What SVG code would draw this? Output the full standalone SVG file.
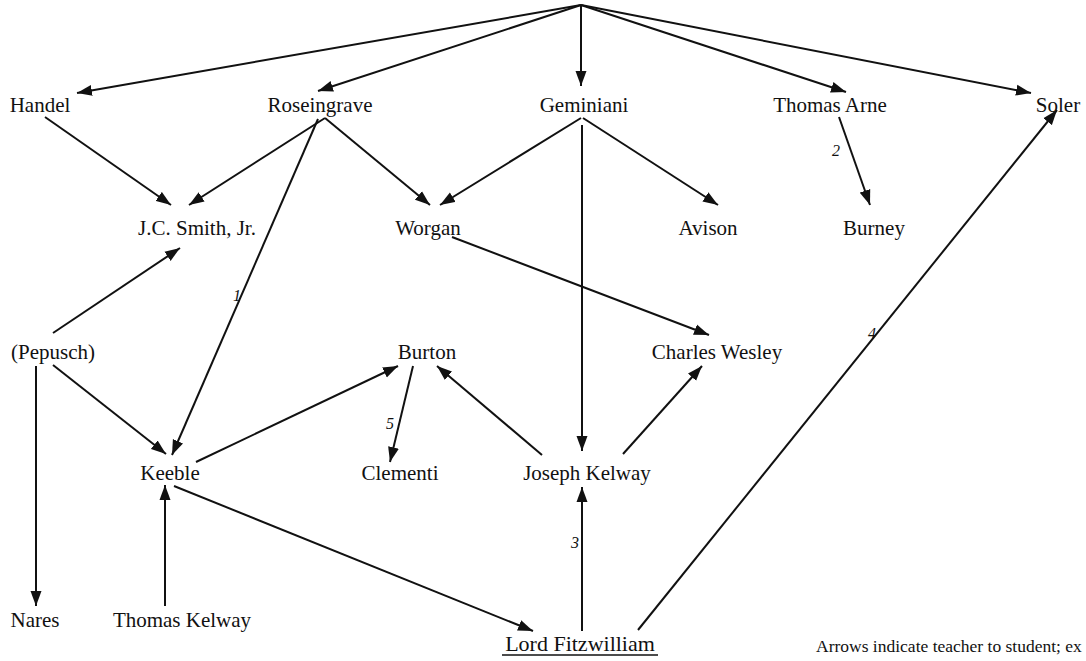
<svg xmlns="http://www.w3.org/2000/svg" width="1086" height="661" viewBox="0 0 1086 661">
<style>
.n{font-family:"Liberation Serif","Times New Roman",serif;font-size:21px;fill:#111;text-anchor:middle}
.l{font-family:"Liberation Serif","Times New Roman",serif;font-size:16px;font-style:italic;fill:#111;text-anchor:middle}
.note{font-family:"Liberation Serif","Times New Roman",serif;font-size:17.5px;fill:#111}
.e{stroke:#111;stroke-width:2;fill:none;marker-end:url(#ah)}
</style>
<defs>
<marker id="ah" markerUnits="userSpaceOnUse" markerWidth="16" markerHeight="12" refX="15" refY="6" orient="auto">
<path d="M0,0.5 L15,6 L0,11.5 z" fill="#111"/>
</marker>
</defs>
<rect width="1086" height="661" fill="#fff"/>
<g id="connectors">
<line class="e" x1="581" y1="5" x2="77" y2="93"/>
<line class="e" x1="581" y1="5" x2="318" y2="91"/>
<line class="e" x1="581" y1="5" x2="581" y2="86"/>
<line class="e" x1="581" y1="5" x2="846" y2="92"/>
<line class="e" x1="581" y1="5" x2="1031" y2="93"/>
<line class="e" x1="45" y1="117" x2="171" y2="205"/>
<line class="e" x1="325" y1="118" x2="189" y2="205"/>
<line class="e" x1="325" y1="118" x2="430" y2="205"/>
<line class="e" x1="318" y1="119" x2="172" y2="455"/>
<line class="e" x1="581" y1="118" x2="440" y2="205"/>
<line class="e" x1="583" y1="118" x2="718" y2="205"/>
<line class="e" x1="582" y1="125" x2="582" y2="451"/>
<line class="e" x1="839" y1="117" x2="870" y2="205"/>
<line class="e" x1="452" y1="237" x2="709" y2="335"/>
<line class="e" x1="53" y1="333" x2="180" y2="248"/>
<line class="e" x1="53" y1="365" x2="166" y2="454"/>
<line class="e" x1="36" y1="366" x2="36" y2="606"/>
<line class="e" x1="196" y1="462" x2="398" y2="366"/>
<line class="e" x1="413" y1="366" x2="390" y2="462"/>
<line class="e" x1="542" y1="455" x2="437" y2="366"/>
<line class="e" x1="623" y1="454" x2="702" y2="366"/>
<line class="e" x1="165" y1="606" x2="165" y2="485"/>
<line class="e" x1="174" y1="486" x2="533" y2="631"/>
<line class="e" x1="582" y1="631" x2="582" y2="487"/>
<line class="e" x1="638" y1="630" x2="1057" y2="110"/>
</g>
<g id="edge-labels">
<text class="l" x="237" y="301">1</text>
<text class="l" x="836" y="156">2</text>
<text class="l" x="575" y="548">3</text>
<text class="l" x="872" y="339">4</text>
<text class="l" x="390" y="429">5</text>
</g>
<g id="node-handel"><text class="n" x="40" y="112">Handel</text></g>
<g id="node-roseingrave"><text class="n" x="320" y="112">Roseingrave</text></g>
<g id="node-geminiani"><text class="n" x="584" y="112">Geminiani</text></g>
<g id="node-thomas-arne"><text class="n" x="830" y="112">Thomas Arne</text></g>
<g id="node-soler"><text class="n" x="1058" y="112">Soler</text></g>
<g id="node-jc-smith"><text class="n" x="197" y="235">J.C. Smith, Jr.</text></g>
<g id="node-worgan"><text class="n" x="428" y="235">Worgan</text></g>
<g id="node-avison"><text class="n" x="708" y="235">Avison</text></g>
<g id="node-burney"><text class="n" x="874" y="235">Burney</text></g>
<g id="node-pepusch"><text class="n" x="53" y="359">(Pepusch)</text></g>
<g id="node-burton"><text class="n" x="427" y="359">Burton</text></g>
<g id="node-charles-wesley"><text class="n" x="717" y="359">Charles Wesley</text></g>
<g id="node-keeble"><text class="n" x="170" y="480">Keeble</text></g>
<g id="node-clementi"><text class="n" x="400" y="480">Clementi</text></g>
<g id="node-joseph-kelway"><text class="n" x="587" y="480">Joseph Kelway</text></g>
<g id="node-nares"><text class="n" x="35" y="627">Nares</text></g>
<g id="node-thomas-kelway"><text class="n" x="182" y="627">Thomas Kelway</text></g>
<g id="node-lord-fitzwilliam"><text class="n" x="580" y="651" style="font-size:22px">Lord Fitzwilliam</text><line x1="502" y1="655" x2="658" y2="655" stroke="#111" stroke-width="1.6"/></g>
<g id="note"><text class="note" x="816" y="652">Arrows indicate teacher to student; ex</text></g>
</svg>
